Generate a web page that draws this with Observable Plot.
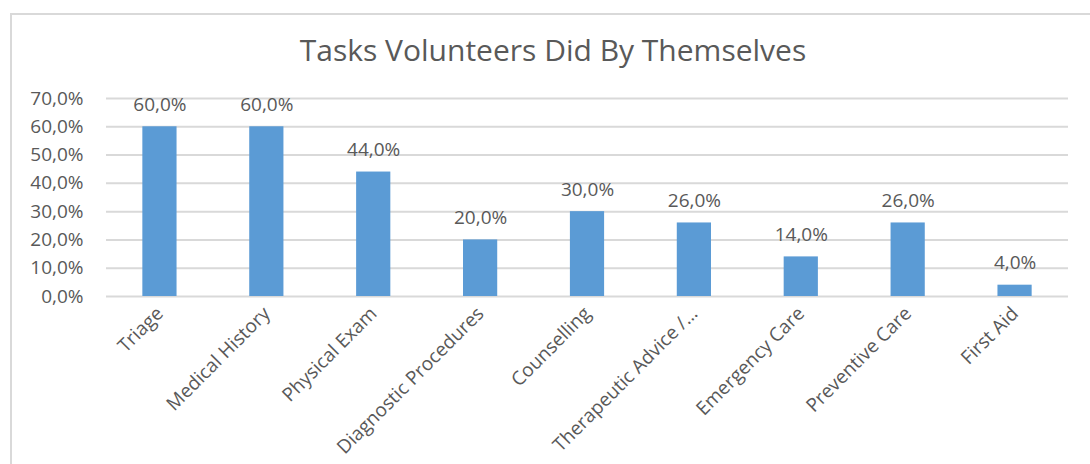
<!DOCTYPE html>
<html>
<head>
<meta charset="utf-8">
<script src="https://cdn.jsdelivr.net/npm/d3@7"></script>
<script src="https://cdn.jsdelivr.net/npm/@observablehq/plot@0.6"></script>
<style>
  body { margin: 0; background: #fff; font-family: "Open Sans", sans-serif; }
  #wrap { position: relative; width: 1090px; height: 464px; overflow: hidden; background: #fff; }
  #frame { position: absolute; left: 10px; top: 13px; width: 1200px; height: 600px; border-left: 2px solid #d9d9d9; border-top: 2px solid #d9d9d9; box-sizing: border-box; }
  #title { position: absolute; left: 0; width: 1106px; top: 29px; text-align: center; font-size: 30px; color: #595959; }
  #chart { position: absolute; left: 0; top: 0; }
</style>
</head>
<body>
<div id="wrap">
  <div id="frame"></div>
  <div id="title">Tasks Volunteers Did By Themselves</div>
  <div id="chart"></div>
</div>
<script>
const categories = ["Triage", "Medical History", "Physical Exam", "Diagnostic Procedures", "Counselling", "Therapeutic Advice /…", "Emergency Care", "Preventive Care", "First Aid"];
const values = [0.60, 0.60, 0.44, 0.20, 0.30, 0.26, 0.14, 0.26, 0.04];
const yTicks = [0, 0.1, 0.2, 0.3, 0.4, 0.5, 0.6, 0.7];

const data = categories.map((c, i) => ({category: c, value: values[i]}));
const fmt = v => (v * 100).toFixed(1).replace(".", ",") + "%";

const chart = Plot.plot({
  width: 1090,
  height: 464,
  marginLeft: 106,
  marginRight: 22,
  marginTop: 98,
  marginBottom: 168,
  style: { fontFamily: "Open Sans, sans-serif", fontSize: "19px", color: "#595959", background: "transparent" },
  x: { domain: categories, paddingInner: 0.68, paddingOuter: 0.34, round: false, label: null },
  y: { domain: [0, 0.7], label: null },
  marks: [
    Plot.gridY(yTicks, { stroke: "#d9d9d9", strokeOpacity: 1, strokeWidth: 2 }),
    Plot.axisY({ ticks: yTicks, tickFormat: fmt, tickSize: 0, tickPadding: 23, fontSize: 19, fill: "#595959", label: null }),
    Plot.axisX({ tickSize: 0, tickPadding: 14, tickRotate: -45, fontSize: 19, fill: "#595959", label: null }),
    Plot.barY(data, { x: "category", y: "value", fill: "#5b9bd5" }),
    Plot.text(data, { x: "category", y: "value", text: d => fmt(d.value), dy: -22, fontSize: 19, fill: "#595959" })
  ]
});
document.getElementById("chart").appendChild(chart);
</script>
</body>
</html>
